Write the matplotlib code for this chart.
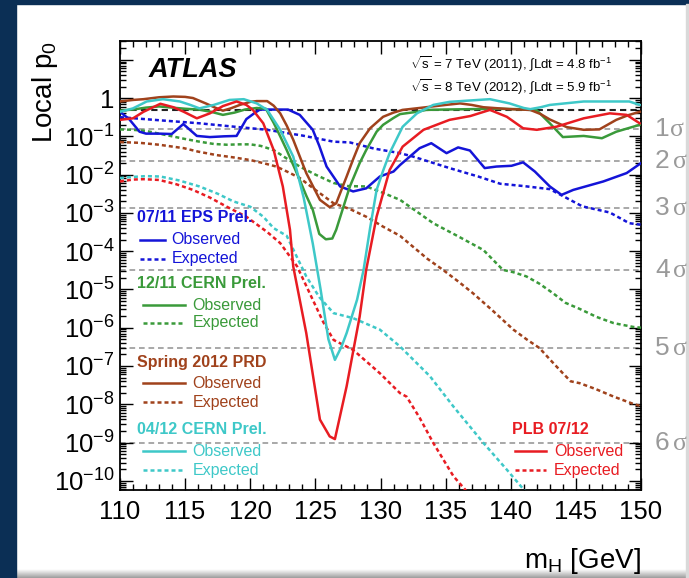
import numpy as np
import matplotlib
matplotlib.use('Agg')
import matplotlib.pyplot as plt
from matplotlib.ticker import FixedLocator, FuncFormatter, MultipleLocator, NullFormatter
from matplotlib.patches import Rectangle

plt.rcParams['font.family'] = ['Liberation Sans', 'DejaVu Sans']
plt.rcParams['mathtext.fontset'] = 'custom'
plt.rcParams['mathtext.rm'] = 'Liberation Sans'
plt.rcParams['mathtext.it'] = 'Liberation Sans:italic'
plt.rcParams['mathtext.bf'] = 'Liberation Sans:bold'
plt.rcParams['mathtext.default'] = 'regular'

# ---------------- data (mass in GeV, log10 of local p0) ----------------
eps_obs_m = [110.0, 110.7, 111.5, 112.0, 113.0, 113.97, 114.86, 115.9, 116.9, 118.0, 118.95,
             119.7, 120.3, 120.74, 122.9, 123.8, 124.8, 125.3, 125.86, 126.9, 127.9, 128.9,
             129.95, 131.0, 131.5, 132.25, 133.0, 133.9, 135.07, 135.96, 136.86, 138.0, 138.9,
             140.06, 140.95, 141.85, 143.0, 143.9, 144.8, 147.1, 148.9, 150.0]
eps_obs_lp = [-0.36, -0.55, -0.88, -0.93, -0.93, -0.94, -0.68, -0.99, -1.02, -1.00, -0.99,
              -0.55, -0.40, -0.301, -0.301, -0.44, -0.83, -1.25, -1.79, -2.31, -2.44, -2.36,
              -2.05, -1.92, -1.75, -1.53, -1.31, -1.18, -1.44, -1.29, -1.37, -1.83, -1.79,
              -1.77, -1.68, -1.92, -2.31, -2.53, -2.40, -2.18, -1.96, -1.70]
eps_exp_m = [110.0, 113.0, 116.1, 118.5, 121.3, 124.0, 126.4, 127.65, 129.5, 131.5, 132.5,
             135.3, 137.5, 139.2, 141.0, 143.0, 145.5, 147.6, 149.1, 150.0]
eps_exp_lp = [-0.50, -0.58, -0.66, -0.74, -0.83, -0.98, -1.14, -1.16, -1.32, -1.44, -1.53,
              -1.83, -2.05, -2.24, -2.30, -2.38, -2.83, -2.99, -3.27, -3.31]

cern11_obs_m = [110, 111, 112, 113, 114, 115, 116, 117, 117.9, 118.8, 119.6, 120.5, 121.2,
                121.8, 122.3, 122.8, 123.3, 123.8, 124.3, 124.8, 125.3, 125.8, 126.3, 126.6,
                127.1, 127.65, 128.4, 128.9, 129.7, 130.2, 131.0, 131.5, 132.8, 133.5, 135,
                137, 139, 140.5, 142.0, 143.0, 144.0, 145.6, 147.0, 148.1, 149.9]
cern11_obs_lp = [-0.33, -0.30, -0.25, -0.22, -0.25, -0.28, -0.30, -0.36, -0.44, -0.38, -0.30,
                 -0.26, -0.28, -0.65, -1.00, -1.36, -1.75, -2.14, -2.55, -2.92, -3.55, -3.69,
                 -3.67, -3.44, -2.90, -2.31, -1.70, -1.36, -0.88, -0.70, -0.52, -0.42, -0.36,
                 -0.31, -0.30, -0.29, -0.28, -0.29, -0.32, -0.66, -1.02, -0.99, -1.05, -0.88,
                 -0.70]
cern11_exp_m = [110, 111, 112, 113, 114, 115, 116.1, 117.2, 118.2, 119.2, 120, 120.8, 121.8,
                122.8, 123.8, 125, 126.4, 127.5, 128.9, 130.0, 131.5, 132.8, 134.05, 136,
                137.9, 139.4, 140.2, 141.2, 142.2, 143.25, 144.2, 145.3, 146.6, 147.9, 149.4,
                150]
cern11_exp_lp = [-0.82, -0.83, -0.86, -0.93, -1.00, -1.07, -1.14, -1.20, -1.22, -1.21, -1.21,
                 -1.25, -1.36, -1.58, -1.79, -2.00, -2.22, -2.30, -2.31, -2.45, -2.66, -2.97,
                 -3.27, -3.62, -3.97, -4.49, -4.55, -4.66, -4.85, -5.10, -5.35, -5.51, -5.72,
                 -5.88, -5.98, -6.00]

prd_obs_m = [110, 111, 111.8, 113, 114.1, 115, 115.6, 116.65, 117.3, 117.9, 118.5, 119.2,
             120.0, 120.5, 121.3, 121.8, 122.3, 122.8, 123.3, 124.3, 125.35, 126.1, 126.6,
             127.0, 127.4, 127.9, 128.4, 129.2, 130.2, 131.0, 131.7, 133.5, 135, 136.1, 137,
             137.9, 139.9, 141.5, 142.3, 143.0, 144.3, 145.6, 146.8, 148.1, 149.0, 149.9]
prd_obs_lp = [-0.09, -0.05, -0.03, 0.02, 0.04, 0.03, 0.0, -0.15, -0.25, -0.33, -0.27, -0.18,
              -0.10, -0.08, -0.08, -0.20, -0.40, -0.72, -1.09, -1.96, -2.66, -2.85, -2.75,
              -2.40, -2.05, -1.60, -1.18, -0.79, -0.49, -0.38, -0.31, -0.24, -0.18, -0.14,
              -0.18, -0.24, -0.29, -0.31, -0.42, -0.56, -0.76, -0.83, -0.82, -0.57, -0.45,
              -0.36]
prd_exp_m = [110, 111.5, 113, 114.9, 116, 117.4, 118.7, 120, 121, 122.0, 123.0, 123.8, 125.0,
             126.4, 127.65, 128.9, 130.2, 131.5, 132.55, 133.6, 134.8, 136, 137.1, 138.6,
             140.2, 141.2, 142.2, 143.2, 144.0, 144.6, 145.3, 146.5, 147.9, 149.4, 150]
prd_exp_lp = [-1.15, -1.17, -1.22, -1.31, -1.40, -1.49, -1.55, -1.62, -1.70, -1.79, -1.95,
              -2.09, -2.40, -2.75, -2.90, -3.10, -3.36, -3.60, -3.90, -4.20, -4.49, -4.80,
              -5.10, -5.55, -6.05, -6.30, -6.53, -6.90, -7.19, -7.40, -7.45, -7.60, -7.80,
              -7.99, -8.05]

cern12_obs_m = [110, 111, 112.05, 113.3, 114.6, 115.4, 116.1, 117.2, 118.4, 119.5, 120.5,
                121.3, 122.3, 123.3, 124.1, 124.8, 125.4, 126.0, 126.5, 127.0, 127.4, 128.2,
                128.7, 129.2, 129.7, 130.2, 130.7, 131.7, 132.8, 134.05, 135.3, 136.6, 138.4,
                139.9, 141.0, 141.5, 142.3, 143.0, 145.6, 149.1, 149.9]
cern12_obs_lp = [-0.36, -0.27, -0.09, -0.03, -0.09, -0.18, -0.27, -0.18, -0.05, -0.03, -0.14,
                 -0.31, -0.83, -1.53, -2.60, -3.80, -5.00, -6.30, -6.84, -6.50, -6.14, -5.27,
                 -4.49, -3.40, -2.40, -1.90, -1.44, -0.75, -0.40, -0.18, -0.10, -0.07, -0.03,
                 -0.14, -0.26, -0.29, -0.24, -0.18, -0.09, -0.09, -0.18]
cern12_exp_m = [110, 111, 112, 113.1, 114.5, 116.1, 117.5, 118.7, 120, 121, 121.8, 122.8,
                124.3, 125.3, 126.4, 127.9, 129.95, 131.5, 133.8, 135.6, 137.9, 139.7, 141.0,
                141.5]
cern12_exp_lp = [-2.09, -2.06, -2.04, -2.05, -2.15, -2.31, -2.50, -2.70, -2.84, -3.10, -3.40,
                 -3.60, -4.66, -5.20, -5.62, -5.75, -6.05, -6.49, -7.27, -8.06, -9.01, -9.71,
                 -10.23, -10.45]

plb_obs_m = [110, 111, 111.8, 113.1, 114.1, 114.9, 115.9, 116.9, 117.9, 118.95, 119.7, 120.2,
             121.0, 121.8, 122.5, 123.05, 123.3, 124.3, 125.35, 126.1, 126.5, 127.4, 128.4,
             128.9, 129.7, 130.7, 131.7, 133.3, 135.3, 136.9, 138.4, 139.7, 140.95, 142.0,
             143.5, 145.6, 147.6, 148.9, 149.9]
plb_obs_lp = [-0.57, -0.53, -0.36, -0.15, -0.24, -0.36, -0.53, -0.40, -0.21, -0.09, -0.18,
              -0.31, -0.66, -1.36, -2.31, -3.44, -4.40, -6.14, -8.40, -8.84, -8.91, -7.53,
              -5.71, -4.49, -3.10, -1.88, -1.27, -0.83, -0.57, -0.47, -0.31, -0.49, -0.79,
              -0.83, -0.75, -0.53, -0.40, -0.44, -0.66]
plb_exp_m = [110, 111, 111.8, 113, 114.3, 115.6, 116.9, 118.2, 119.7, 120.5, 121.3, 122.3,
             123.6, 124.8, 125.6, 126.4, 127.9, 129.95, 131.5, 132.0, 133.0, 134.05, 135.6,
             136.5, 137]
plb_exp_lp = [-2.18, -2.13, -2.12, -2.14, -2.25, -2.40, -2.60, -2.84, -3.10, -3.30, -3.50,
              -3.79, -4.40, -5.27, -5.85, -6.32, -6.58, -7.19, -7.71, -7.80, -8.35, -9.01,
              -9.88, -10.23, -10.5]

series_names = ['07/11 EPS Prel.', '12/11 CERN Prel.', 'Spring 2012 PRD', '04/12 CERN Prel.', 'PLB 07/12']
series_colors = ['#1414d8', '#3a9a3a', '#a0421c', '#3ec8c8', '#e81c22']

sigma_p0 = [0.158655, 0.02275, 1.3499e-3, 3.167e-5, 2.867e-7, 9.866e-10]
sigma_numbers = ['1', '2', '3', '4', '5', '6']
zero_sigma_p0 = 0.5

x_major = [110, 115, 120, 125, 130, 135, 140, 145, 150]
y_decades = [-10, -9, -8, -7, -6, -5, -4, -3, -2, -1, 0, 1]

# ---------------- figure ----------------
W, H = 689, 578
fig = plt.figure(figsize=(W / 100, H / 100), dpi=100, facecolor='white')

navy = '#0b2f55'
fig.patches.append(Rectangle((0, 0), 16 / W, 1, transform=fig.transFigure, color=navy, zorder=0))
fig.patches.append(Rectangle((0, 1 - 4 / H), 1, 4 / H, transform=fig.transFigure, color=navy, zorder=0))
fig.patches.append(Rectangle((1 - 3 / W, 0), 3 / W, 1 - 4 / H, transform=fig.transFigure, color='#d9d9d9', zorder=0))
gax = fig.add_axes([16 / W, 0, 1 - 16 / W, 9 / H])
gax.imshow(np.linspace(1.0, 0.62, 20).reshape(-1, 1), cmap='gray', vmin=0, vmax=1,
           aspect='auto', extent=(0, 1, 0, 1), origin='upper')
gax.axis('off')

x0, x1, yt, yb = 120, 641, 41, 490
ax = fig.add_axes([x0 / W, 1 - yb / H, (x1 - x0) / W, (yb - yt) / H])
ax.set_xlim(110, 150)
ax.set_ylim(10 ** -10.24, 10 ** 1.49)
ax.set_yscale('log')


def axc(xp, yp):
    return (xp - x0) / (x1 - x0), (yb - yp) / (yb - yt)


# sigma reference lines
for p in sigma_p0:
    ax.axhline(p, color='#9a9a9a', lw=1.2, dashes=(3.4, 2.3), zorder=1)
ax.axhline(zero_sigma_p0, color='#222222', lw=1.5, dashes=(3.0, 2.0), zorder=1)

groups = [
    (eps_obs_m, eps_obs_lp, eps_exp_m, eps_exp_lp),
    (cern11_obs_m, cern11_obs_lp, cern11_exp_m, cern11_exp_lp),
    (prd_obs_m, prd_obs_lp, prd_exp_m, prd_exp_lp),
    (cern12_obs_m, cern12_obs_lp, cern12_exp_m, cern12_exp_lp),
    (plb_obs_m, plb_obs_lp, plb_exp_m, plb_exp_lp),
]
for (om, olp, em, elp), c in zip(groups, series_colors):
    ax.plot(em, 10 ** np.array(elp), color=c, lw=1.8, dashes=(1.6, 1.2), zorder=3, clip_on=True)
for (om, olp, em, elp), c in zip(groups, series_colors):
    ax.plot(om, 10 ** np.array(olp), color=c, lw=1.8, zorder=4, clip_on=True)

# ticks
ax.xaxis.set_major_locator(FixedLocator(x_major))
ax.xaxis.set_minor_locator(MultipleLocator(1))
ax.yaxis.set_major_locator(FixedLocator([10.0 ** d for d in y_decades]))
minor = [k * 10.0 ** d for d in range(-11, 2) for k in range(2, 10)]
ax.yaxis.set_minor_locator(FixedLocator(minor))
ax.yaxis.set_minor_formatter(NullFormatter())


def yfmt(v, pos):
    d = int(round(np.log10(v)))
    if d == 0:
        return '1'
    if d > 0:
        return ''
    return r'$10^{%d}$' % d


ax.yaxis.set_major_formatter(FuncFormatter(yfmt))
ax.tick_params(which='both', direction='in', top=True, right=True, width=1.0, colors='black')
ax.tick_params(which='major', length=9, labelsize=18.5, pad=4)
ax.tick_params(which='minor', length=4.5)
ax.tick_params(axis='x', which='major', pad=7)
for s in ax.spines.values():
    s.set_linewidth(1.3)

ax.set_ylabel('Local p$_0$', fontsize=20, loc='top')
ax.yaxis.set_label_coords(-0.115, 1.0)
ax.set_xlabel('m$_H$ [GeV]', fontsize=20, loc='right')
ax.xaxis.set_label_coords(1.0, -0.125)

# texts
tx, ty = axc(149, 70)
ax.text(tx, ty, 'ATLAS', transform=ax.transAxes, fontsize=19.5, fontweight='bold',
        fontstyle='italic', ha='left', va='center')
tx, ty = axc(612, 64)
ax.text(tx, ty, r'$\sqrt{s}$ = 7 TeV (2011), $\int$Ldt = 4.8 fb$^{-1}$', transform=ax.transAxes,
        fontsize=9.5, ha='right', va='center')
tx, ty = axc(612, 87)
ax.text(tx, ty, r'$\sqrt{s}$ = 8 TeV (2012), $\int$Ldt = 5.9 fb$^{-1}$', transform=ax.transAxes,
        fontsize=9.5, ha='right', va='center')

# sigma labels on the right: sans digit + serif sigma
for i, (p, num) in enumerate(zip(sigma_p0, sigma_numbers)):
    yd = ax.transData.transform((150, p))[1]
    fig.text(655 / W, yd / H, num, color='#9a9a9a', fontsize=19, ha='left', va='center')
    sx = 670 if i == 0 else 673
    fig.text(sx / W, yd / H - 1 / H, 'σ', color='#9a9a9a', fontsize=18.5, ha='left', va='center',
             family=['Liberation Serif', 'DejaVu Serif'])

# legend blocks
leg_layout = [
    # header(x,y), line x0,x1, text x, obs y, exp y
    ((137, 217), (140, 165), 171.5, 240, 259),
    ((137, 284), (143, 185), 192.5, 305, 323),
    ((137, 362), (143, 185), 192.5, 383, 402),
    ((137, 430), (143, 185), 192.5, 451, 470),
    ((512, 430), (515, 546), 554, 451, 470),
]
for name, c, ((hx, hy), (lx0, lx1), tx_, oy, ey) in zip(series_names, series_colors, leg_layout):
    a, b = axc(hx, hy)
    ax.text(a, b, name, transform=ax.transAxes, color=c, fontsize=11.5, fontweight='bold',
            ha='left', va='center')
    for yy, lab, dsh in [(oy, 'Observed', None), (ey, 'Expected', (1.6, 1.2))]:
        p0x, p0y = axc(lx0, yy)
        p1x, _ = axc(lx1, yy)
        kw = dict(color=c, lw=1.8, transform=ax.transAxes, zorder=5)
        if dsh:
            kw['dashes'] = dsh
        ax.plot([p0x, p1x], [p0y, p0y], **kw)
        a, _ = axc(tx_, yy)
        ax.text(a, p0y, lab, transform=ax.transAxes, color=c, fontsize=11.5, ha='left', va='center')

fig.savefig('out.png', dpi=100, facecolor='white')
